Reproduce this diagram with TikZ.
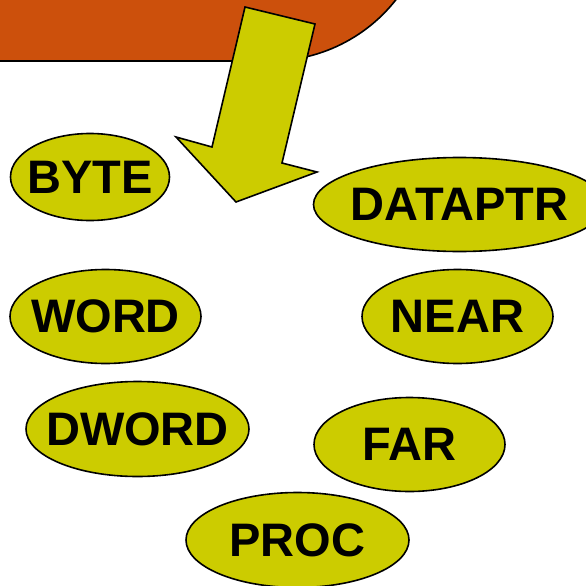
\documentclass[tikz,border=0pt]{standalone}
\usepackage{fontspec}
\setmainfont{Liberation Sans}
\usetikzlibrary{shapes.geometric}
\definecolor{typeyellow}{RGB}{204,204,0}
\definecolor{segorange}{RGB}{204,80,12}
\newcommand{\nowidth}[1]{\makebox[0pt]{#1}}

\begin{document}
\begin{tikzpicture}[x=1pt, y=-1pt,
    kind/.style={ellipse, draw=black, fill=typeyellow, line width=1.6pt, inner sep=0pt,
        font=\bfseries\fontsize{47}{50}\selectfont}]
            \useasboundingbox (0,0) rectangle (586,586);
            \clip (0,0) rectangle (586,586);
            \filldraw[fill=segorange, draw=black, line width=1.6pt] (-10,61)--(270,61) arc[start angle=90, end angle=30, radius=160]--(600,-20)--(-10,-20)--cycle;
            \filldraw[fill=typeyellow, draw=black, line width=1.6pt] (245,7)--(315,24)--(282,163)--(317,172)--(236,202)--(176,137)--(212,147)--cycle;
            \node[kind, minimum width=159pt, minimum height=87pt] (byte) at (90,177) {\nowidth{BYTE}};
            \node[kind, minimum width=292pt, minimum height=94pt] (dataptr) at (459.5,204.5) {\nowidth{DATAPTR}};
            \node[kind, minimum width=191pt, minimum height=94pt] (word) at (105.5,316.5) {\nowidth{WORD}};
            \node[kind, minimum width=191pt, minimum height=94pt] (near) at (457.5,316.5) {\nowidth{NEAR}};
            \node[kind, minimum width=223pt, minimum height=95pt] (dword) at (137.5,429) {\nowidth{DWORD}};
            \node[kind, minimum width=191pt, minimum height=94pt] (far) at (409.5,444.5) {\nowidth{FAR}};
            \node[kind, minimum width=223pt, minimum height=95pt] (proc) at (297.5,540) {\nowidth{PROC}};
        \end{tikzpicture}
\end{document}
